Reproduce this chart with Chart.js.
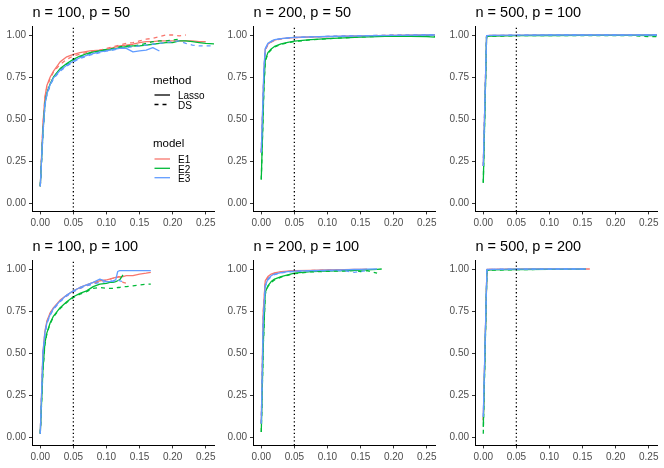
<!DOCTYPE html>
<html>
<head>
<meta charset="utf-8">
<script src="https://cdn.jsdelivr.net/npm/chart.js@4.4.0/dist/chart.umd.min.js"></script>
<style>
  html,body{margin:0;padding:0;background:#fff;}
  #wrap{position:relative;width:664px;height:468px;overflow:hidden;background:#fff;}
  #wrap canvas{position:absolute;}
</style>
</head>
<body>
<div id="wrap">
  <canvas id="pA" width="221" height="234" style="left:0;top:0"></canvas>
  <canvas id="pB" width="221" height="234" style="left:221px;top:0"></canvas>
  <canvas id="pC" width="221" height="234" style="left:443px;top:0"></canvas>
  <canvas id="pD" width="221" height="234" style="left:0;top:234px"></canvas>
  <canvas id="pE" width="221" height="234" style="left:221px;top:234px"></canvas>
  <canvas id="pF" width="221" height="234" style="left:443px;top:234px"></canvas>
</div>
<script>
/* ============================================================
   ROC curves: TPR vs FPR, models E1-E3, Lasso vs DS
   ============================================================ */

const FONT = "'Liberation Sans', Arial, sans-serif";
Chart.defaults.font.family = FONT;
Chart.defaults.color = "#4D4D4D";

const COLORS = { E1:"#F8766D", E2:"#00BA38", E3:"#619CFF", axis:"#000000", tick:"#333333" };

const models  = ["E1","E2","E3"];
const methods = ["Lasso","DS"];
const xTicks  = [0, 0.05, 0.10, 0.15, 0.20, 0.25];
const yTicks  = [0, 0.25, 0.50, 0.75, 1.00];
const cutoff  = 0.05;

/* ---------------- n = 100, p = 50 ---------------- */
const A_fpr = [0,0.004,0.007,0.01,0.015,0.02,0.03,0.04,0.05,0.06,0.075,0.09,0.1,0.11,0.12,0.13,0.14,0.15,0.16,0.17,0.18,0.19,0.2,0.21,0.22,0.23,0.24,0.25,0.27];
const A_E1L = [0.10,0.47,0.63,0.70,0.75,0.785,0.84,0.87,0.885,0.895,0.905,0.91,0.915,0.925,0.935,0.94,0.945,0.955,0.96,0.96,0.965,0.965,0.965,0.965,0.965,0.965,0.96,0.96,null];
const A_E1D = [0.10,0.46,0.62,0.69,0.74,0.78,0.825,0.855,0.875,0.885,0.90,0.91,0.92,0.93,0.94,0.95,0.955,0.965,0.975,0.98,0.99,1.0,1.0,0.995,1.0,null,null,null,null];
const A_E2L = [0.10,0.42,0.59,0.655,0.71,0.75,0.80,0.83,0.855,0.875,0.895,0.905,0.91,0.915,0.925,0.93,0.935,0.935,0.94,0.945,0.95,0.955,0.955,0.965,0.965,0.96,0.955,0.95,0.945];
const A_E2D = [0.10,0.41,0.58,0.65,0.705,0.745,0.795,0.825,0.85,0.87,0.89,0.905,0.915,0.92,0.93,0.935,0.935,0.94,0.95,0.96,0.965,0.965,0.97,0.975,null,null,null,null,null];
const A_E3L = [0.10,0.42,0.585,0.65,0.705,0.745,0.79,0.82,0.845,0.865,0.885,0.90,0.905,0.915,0.92,0.92,0.90,0.905,0.91,0.925,0.905,null,null,null,null,null,null,null,null];
const A_E3D = [0.10,0.41,0.575,0.645,0.70,0.74,0.785,0.815,0.84,0.86,0.88,0.895,0.905,0.91,0.92,0.925,0.93,0.935,0.94,0.945,0.95,0.955,0.96,0.965,0.95,0.94,0.935,0.935,0.935];

/* ---------------- n = 200, p = 50 ---------------- */
const B_fpr = [0,0.004,0.006,0.01,0.015,0.02,0.03,0.04,0.05,0.075,0.1,0.15,0.2,0.25,0.27];
const B_E1L = [0.30,0.78,0.915,0.945,0.96,0.97,0.978,0.982,0.985,0.988,0.99,0.994,0.998,1.0,1.0];
const B_E1D = [0.30,0.77,0.91,0.94,0.957,0.967,0.976,0.981,0.984,0.988,0.991,0.995,0.999,1.0,1.0];
const B_E2L = [0.14,0.70,0.85,0.895,0.917,0.932,0.947,0.956,0.963,0.973,0.978,0.987,0.993,0.99,0.986];
const B_E2D = [0.14,0.68,0.84,0.89,0.912,0.928,0.944,0.954,0.961,0.971,0.978,0.988,0.995,0.994,0.99];
const B_E3L = [0.30,0.80,0.92,0.95,0.963,0.972,0.979,0.983,0.986,0.989,0.991,0.995,0.998,1.0,1.0];
const B_E3D = [0.30,0.79,0.915,0.947,0.961,0.97,0.978,0.982,0.985,0.989,0.992,0.996,0.999,1.0,1.0];

/* ---------------- n = 500, p = 100 ---------------- */
const C_fpr = [0,0.005,0.01,0.05,0.1,0.15,0.2,0.23,0.25,0.27];
const C_E1L = [0.22,0.995,0.997,0.998,0.999,1.0,1.0,1.0,1.0,1.0];
const C_E1D = [0.22,0.994,0.996,0.998,0.999,1.0,1.0,1.0,1.0,1.0];
const C_E2L = [0.12,0.99,0.994,0.996,0.997,0.998,0.998,0.998,0.997,0.997];
const C_E2D = [0.12,0.99,0.993,0.996,0.997,0.997,0.997,0.996,0.99,0.99];
const C_E3L = [0.22,0.996,0.998,0.999,1.0,1.0,1.0,1.0,1.0,1.0];
const C_E3D = [0.22,0.995,0.997,0.999,1.0,1.0,1.0,1.0,1.0,1.0];

/* ---------------- n = 100, p = 100 ---------------- */
const D_fpr = [0,0.004,0.007,0.01,0.015,0.02,0.03,0.04,0.05,0.06,0.07,0.08,0.09,0.1,0.105,0.11,0.114,0.117,0.12,0.125,0.13,0.14,0.15,0.16,0.167];
const D_E1L = [0.02,0.50,0.63,0.69,0.74,0.77,0.815,0.845,0.87,0.89,0.905,0.92,0.93,0.935,0.94,0.945,0.95,0.95,0.955,0.955,0.96,0.96,0.97,0.975,0.98];
const D_E1D = [0.02,0.49,0.62,0.685,0.735,0.765,0.81,0.84,0.865,0.885,0.90,0.915,0.925,0.935,0.94,0.945,0.95,0.955,0.955,0.92,0.915,null,null,null,null];
const D_E2L = [0.02,0.40,0.56,0.62,0.68,0.72,0.77,0.805,0.835,0.855,0.87,0.895,0.91,0.915,0.92,0.92,0.925,0.93,0.935,0.965,null,null,null,null,null];
const D_E2D = [0.02,0.39,0.55,0.615,0.675,0.715,0.765,0.80,0.83,0.85,0.865,0.885,0.89,0.885,0.885,0.885,0.885,0.89,0.89,0.895,0.895,0.90,0.905,0.91,0.91];
const D_E3L = [0.02,0.50,0.62,0.68,0.73,0.765,0.81,0.845,0.87,0.89,0.905,0.92,0.94,0.925,0.925,0.93,0.935,0.985,0.99,0.99,0.99,0.99,0.99,0.99,0.99];
const D_E3D = [0.02,0.49,0.61,0.675,0.725,0.76,0.805,0.84,0.865,0.885,0.90,0.91,0.92,0.925,0.93,0.925,0.93,0.935,0.93,0.925,null,null,null,null,null];

/* ---------------- n = 200, p = 100 ---------------- */
const E_fpr = [0,0.003,0.006,0.01,0.015,0.02,0.03,0.04,0.05,0.075,0.1,0.125,0.14,0.15,0.16,0.175,0.182];
const E_E1L = [0.08,0.75,0.93,0.955,0.97,0.977,0.984,0.987,0.99,0.992,0.994,0.996,0.997,0.998,0.999,null,null];
const E_E1D = [0.08,0.74,0.925,0.95,0.966,0.974,0.982,0.986,0.988,0.991,0.993,0.995,0.996,0.997,null,null,null];
const E_E2L = [0.03,0.55,0.86,0.90,0.925,0.94,0.955,0.965,0.975,0.984,0.988,0.99,0.992,0.993,0.995,0.998,1.0];
const E_E2D = [0.03,0.54,0.85,0.895,0.92,0.935,0.952,0.962,0.972,0.983,0.986,0.988,0.99,0.985,0.99,0.975,null];
const E_E3L = [0.08,0.70,0.90,0.94,0.96,0.97,0.979,0.984,0.987,0.99,0.993,0.995,0.997,0.998,0.999,1.0,null];
const E_E3D = [0.08,0.69,0.895,0.935,0.955,0.967,0.977,0.982,0.985,0.989,0.99,0.99,0.98,0.985,0.99,null,null];

/* ---------------- n = 500, p = 200 ---------------- */
const F_fpr = [0,0.0055,0.01,0.05,0.1,0.155,0.161];
const F_E1L = [0.10,0.997,0.998,0.999,1.0,1.0,1.0];
const F_E1D = [0.10,0.995,0.997,0.998,0.999,1.0,null];
const F_E2L = [0.06,0.99,0.995,0.997,0.998,0.999,null];
const F_E2D = [0.02,0.99,0.993,0.996,0.998,0.999,null];
const F_E3L = [0.12,0.997,0.998,0.999,1.0,1.0,null];
const F_E3D = [0.12,0.996,0.998,0.999,1.0,1.0,null];

const panels = [
  { id:'pA', title:'n = 100, p = 50',  fpr:A_fpr, tpr:[A_E1L,A_E1D,A_E2L,A_E2D,A_E3L,A_E3D], legend:true },
  { id:'pB', title:'n = 200, p = 50',  fpr:B_fpr, tpr:[B_E1L,B_E1D,B_E2L,B_E2D,B_E3L,B_E3D] },
  { id:'pC', title:'n = 500, p = 100', fpr:C_fpr, tpr:[C_E1L,C_E1D,C_E2L,C_E2D,C_E3L,C_E3D] },
  { id:'pD', title:'n = 100, p = 100', fpr:D_fpr, tpr:[D_E1L,D_E1D,D_E2L,D_E2D,D_E3L,D_E3D] },
  { id:'pE', title:'n = 200, p = 100', fpr:E_fpr, tpr:[E_E1L,E_E1D,E_E2L,E_E2D,E_E3L,E_E3D] },
  { id:'pF', title:'n = 500, p = 200', fpr:F_fpr, tpr:[F_E1L,F_E1D,F_E2L,F_E2D,F_E3L,F_E3D] }
];

/* ---------------- panel title + inset legend ---------------- */
const panelText = {
  id:'panelText',
  afterDraw(chart, args, opts){
    const ctx = chart.ctx;
    ctx.save();
    ctx.fillStyle = '#000';
    ctx.textBaseline = 'alphabetic';
    ctx.font = `14.5px ${FONT}`;
    ctx.fillText(opts.title, chart.chartArea.left + 0.5, 16.5);

    if (opts.legend){
      const x0 = 154.5, x1 = 170, tx = 178;
      ctx.font = `11.5px ${FONT}`;
      ctx.fillText('method', 153, 84);
      ctx.fillText('model', 153, 146.5);
      ctx.font = `10px ${FONT}`;
      const rows = [
        { y:95,    label:'Lasso', color:'#000', dash:[] },
        { y:104.5, label:'DS',    color:'#000', dash:[4,4] },
        { y:159,   label:'E1',    color:COLORS.E1, dash:[] },
        { y:168.3, label:'E2',    color:COLORS.E2, dash:[] },
        { y:177.7, label:'E3',    color:COLORS.E3, dash:[] }
      ];
      rows.forEach(r=>{
        ctx.strokeStyle = r.color;
        ctx.lineWidth = 1.3;
        ctx.setLineDash(r.dash);
        ctx.beginPath(); ctx.moveTo(x0, r.y); ctx.lineTo(x1, r.y); ctx.stroke();
        ctx.fillStyle = '#000';
        ctx.fillText(r.label, tx, r.y + 4.3);
      });
    }
    ctx.restore();
  }
};

function toPoints(xs, ys){
  return xs.map((x,i)=>({ x:x, y:ys[i] })).filter(p => p.y !== null);
}

panels.forEach(p=>{
  const datasets = [{
    label:'cutoff',
    data:[{x:cutoff, y:-0.05},{x:cutoff, y:1.05}],
    borderColor:'#000', borderWidth:1.3, borderDash:[1.3,2.5],
    pointRadius:0, order:0
  }];
  models.forEach((m,mi)=>{
    methods.forEach((meth,ki)=>{
      datasets.push({
        label:`${m} ${meth}`,
        data: toPoints(p.fpr, p.tpr[mi*2+ki]),
        borderColor: COLORS[m],
        borderWidth:1.3,
        borderDash: meth === 'DS' ? [4,4] : [],
        borderJoinStyle:'round',
        pointRadius:0,
        tension:0,
        order: 3 - mi
      });
    });
  });

  new Chart(document.getElementById(p.id), {
    type:'line',
    data:{ datasets },
    plugins:[panelText],
    options:{
      responsive:false,
      animation:false,
      layout:{ autoPadding:false, padding:{ top:26.6, right:7, bottom:0, left:0 } },
      plugins:{
        legend:{ display:false },
        tooltip:{ enabled:false },
        panelText:{ title:p.title, legend:!!p.legend }
      },
      scales:{
        x:{
          type:'linear', min:-0.0125, max:0.2625,
          afterBuildTicks: s => { s.ticks = xTicks.map(v=>({value:v})); },
          afterFit: s => { s.height = 22.6; s.paddingLeft = 0; s.paddingRight = 0; },
          border:{ display:true, color:COLORS.axis, width:1 },
          grid:{ drawOnChartArea:false, drawTicks:true, tickLength:3, tickColor:COLORS.tick },
          ticks:{ color:'#4D4D4D', font:{ size:10 }, padding:2.5, maxRotation:0, callback:v=>v.toFixed(2) }
        },
        y:{
          type:'linear', min:-0.05, max:1.05,
          afterBuildTicks: s => { s.ticks = yTicks.map(v=>({value:v})); },
          afterFit: s => { s.width = 32; s.paddingTop = 0; s.paddingBottom = 0; },
          border:{ display:true, color:COLORS.axis, width:1 },
          grid:{ drawOnChartArea:false, drawTicks:true, tickLength:3, tickColor:COLORS.tick },
          ticks:{ color:'#4D4D4D', font:{ size:10 }, padding:3, callback:v=>v.toFixed(2) }
        }
      }
    }
  });
});
</script>
</body>
</html>
